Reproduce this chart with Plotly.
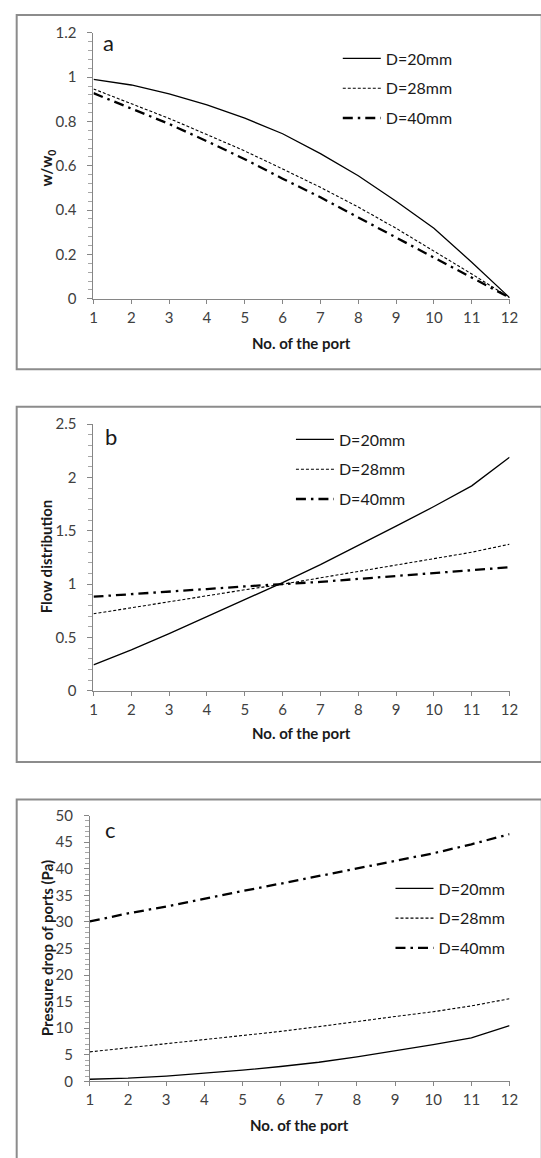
import plotly.graph_objects as go

W, H = 541, 1158

# ---- data ----
ports = [1, 2, 3, 4, 5, 6, 7, 8, 9, 10, 11, 12]
series_names = ["D=20mm", "D=28mm", "D=40mm"]

ww0_d20 = [0.99, 0.965, 0.925, 0.875, 0.815, 0.745, 0.655, 0.555, 0.44, 0.318, 0.165, 0.005]
ww0_d28 = [0.947, 0.881, 0.814, 0.741, 0.667, 0.586, 0.503, 0.414, 0.318, 0.215, 0.112, 0.005]
ww0_d40 = [0.928, 0.859, 0.789, 0.711, 0.630, 0.542, 0.458, 0.367, 0.277, 0.186, 0.096, 0.005]

flow_d20 = [0.245, 0.385, 0.538, 0.698, 0.861, 1.015, 1.184, 1.362, 1.544, 1.728, 1.922, 2.19]
flow_d28 = [0.723, 0.78, 0.833, 0.89, 0.948, 1.0, 1.06, 1.12, 1.18, 1.24, 1.30, 1.375]
flow_d40 = [0.883, 0.905, 0.93, 0.955, 0.98, 1.0, 1.022, 1.05, 1.078, 1.102, 1.13, 1.159]

dp_d20 = [0.4, 0.6, 1.0, 1.5, 2.1, 2.8, 3.6, 4.6, 5.7, 6.9, 8.2, 10.5]
dp_d28 = [5.55, 6.3, 7.1, 7.8, 8.6, 9.4, 10.3, 11.3, 12.2, 13.1, 14.2, 15.55]
dp_d40 = [30.1, 31.6, 32.9, 34.4, 35.8, 37.2, 38.6, 40.1, 41.5, 42.9, 44.6, 46.5]

panels = [
    dict(label="a", ytitle="w/w<sub>0</sub>", ys=[ww0_d20, ww0_d28, ww0_d40],
         yrange=[0, 1.2], dtick=0.2, minor=0.04),
    dict(label="b", ytitle="Flow distribution", ys=[flow_d20, flow_d28, flow_d40],
         yrange=[0, 2.5], dtick=0.5, minor=0.1),
    dict(label="c", ytitle="Pressure drop of ports (Pa)", ys=[dp_d20, dp_d28, dp_d40],
         yrange=[0, 50], dtick=5, minor=1),
]

# ---- layout geometry (pixels) ----
def px_y(p):
    return 1 - p / H

def px_x(p):
    return p / W

plot_boxes = [  # x0, x1, ytop, ybottom
    (91.7, 518, 23.3, 293.3),
    (91.7, 518, 420.7, 691.7),
    (88, 518, 818.3, 1088.3),
]
frames = [(13, 5, 365), (13, 403, 764), (13, 802, 1170)]
legend_pos = [(342, 32), (294, 419), (396, 875)]
label_pos = [(107, 33), (110, 433), (109, 832)]
ytitle_pos = [(44, 160), (43, 555), (44, 953)]
xtitle_y = [338, 734, 1133]

styles = [
    dict(color="#000000", width=1.3, dash="solid"),
    dict(color="#000000", width=1.1, dash="3px,2px"),
    dict(color="#000000", width=2.3, dash="10px,5px,2.5px,5px"),
]

FONT = "Lato"
TICK_FONT = dict(family=FONT, size=15, color="#404040")
AX_COLOR = "#868686"

fig = go.Figure()
layout = dict(
    width=W, height=H,
    margin=dict(l=0, r=0, t=0, b=0),
    paper_bgcolor="white", plot_bgcolor="white",
    showlegend=True,
    shapes=[], annotations=[],
)

for i, pnl in enumerate(panels):
    n = "" if i == 0 else str(i + 1)
    xa, ya = "x" + n, "y" + n
    lg = "legend" + n
    for j, name in enumerate(series_names):
        fig.add_trace(go.Scatter(
            x=ports, y=pnl["ys"][j], mode="lines", name=name,
            line=styles[j], xaxis=xa, yaxis=ya, legend=lg,
            legendgroup=f"{i}-{j}", showlegend=True,
        ))
    x0, x1, yt, yb = plot_boxes[i]
    layout["xaxis" + n] = dict(
        domain=[px_x(x0), px_x(x1)], anchor=ya, range=[1, 12],
        tick0=1, dtick=1, showgrid=False, zeroline=False,
        showline=True, linecolor=AX_COLOR, linewidth=1,
        ticks="outside", ticklen=4, tickcolor=AX_COLOR, tickwidth=1,
        tickfont=TICK_FONT, ticklabelstandoff=1,
    )
    layout["yaxis" + n] = dict(
        domain=[px_y(yb), px_y(yt)], anchor=xa, range=pnl["yrange"],
        dtick=pnl["dtick"], tick0=0, showgrid=False, zeroline=False,
        showline=True, linecolor=AX_COLOR, linewidth=1,
        ticks="outside", ticklen=5, tickcolor=AX_COLOR, tickwidth=1,
        tickfont=TICK_FONT, ticklabelstandoff=8,
        minor=dict(dtick=pnl["minor"], ticks="outside", ticklen=4,
                   tickcolor="#a6a6a6", tickwidth=1, showgrid=False),
    )
    lx, ly = legend_pos[i]
    layout[lg] = dict(
        x=px_x(lx), y=px_y(ly), xanchor="left", yanchor="top",
        xref="paper", yref="paper", bgcolor="rgba(0,0,0,0)",
        font=dict(family=FONT, size=16, color="#1a1a1a"),
        tracegroupgap=6, itemwidth=38, traceorder="grouped",
    )
    fx, fy0, fy1 = frames[i]
    layout["shapes"].append(dict(
        type="rect", xref="paper", yref="paper",
        x0=px_x(fx), x1=px_x(W + 10), y0=px_y(fy1), y1=px_y(fy0),
        line=dict(color="#8c8c8c", width=2), fillcolor="rgba(0,0,0,0)",
        layer="below",
    ))
    ax, ay = label_pos[i]
    layout["annotations"].append(dict(
        text=pnl["label"], x=px_x(ax), y=px_y(ay), xref="paper", yref="paper",
        showarrow=False, xanchor="center", yanchor="middle",
        font=dict(family=FONT, size=22, color="#1a1a1a"),
    ))
    tx, ty = ytitle_pos[i]
    layout["annotations"].append(dict(
        text="<b>" + pnl["ytitle"] + "</b>", x=px_x(tx), y=px_y(ty),
        xref="paper", yref="paper", showarrow=False, textangle=-90,
        xanchor="center", yanchor="middle",
        font=dict(family=FONT, size=15, color="#1a1a1a"),
    ))
    layout["annotations"].append(dict(
        text="<b>No. of the port</b>", x=px_x((x0 + x1) / 2), y=px_y(xtitle_y[i]),
        xref="paper", yref="paper", showarrow=False,
        xanchor="center", yanchor="middle",
        font=dict(family=FONT, size=15, color="#1a1a1a"),
    ))

fig.update_layout(**layout)
fig.write_html("out.html")
